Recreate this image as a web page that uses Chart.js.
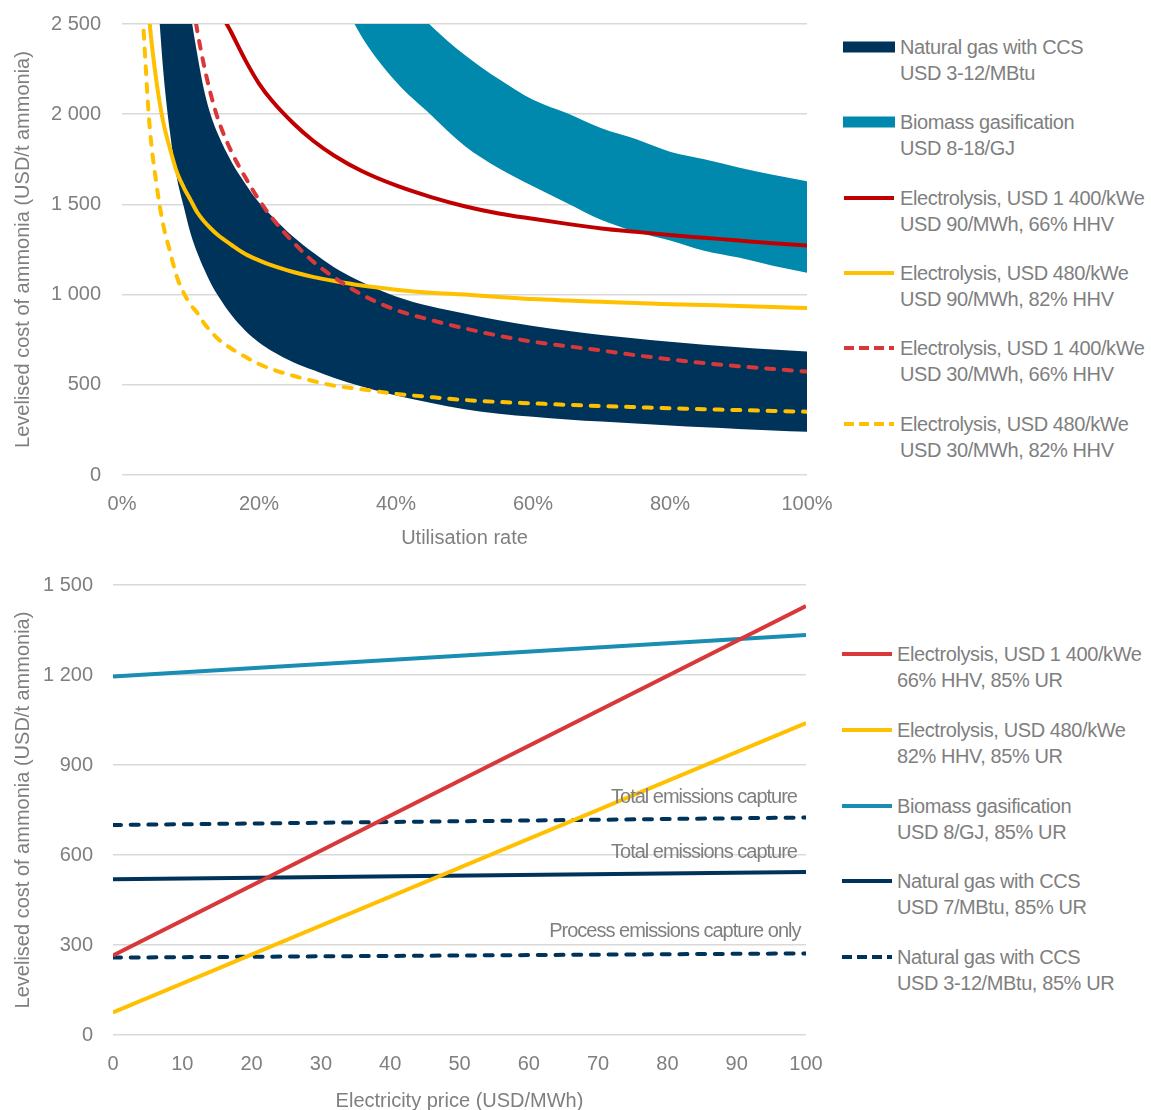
<!DOCTYPE html>
<html>
<head>
<meta charset="utf-8">
<script src="https://cdn.jsdelivr.net/npm/chart.js@4/dist/chart.umd.min.js"></script>
<style>
html,body{margin:0;padding:0;background:#fff;}
body{width:1151px;height:1110px;position:relative;overflow:hidden;font-family:"Liberation Sans",Arial,sans-serif;color:#7f7f7f;}
canvas{position:absolute;left:0;}
#c1{top:0;}
#c2{top:560px;}
.legend{position:absolute;font-size:20px;line-height:26px;color:#7f7f7f;letter-spacing:-0.4px;}
.item{position:absolute;left:0;white-space:nowrap;height:52px;}
.item svg{position:absolute;left:0;top:0;}
.item .t{position:absolute;top:0;}
</style>
</head>
<body>
<canvas id="c1" width="840" height="560"></canvas>
<canvas id="c2" width="840" height="560"></canvas>
<div id="leg1" class="legend" style="left:843px;top:34px;"></div>
<div id="leg2" class="legend" style="left:841px;top:641px;"></div>
<script>
// ---------------- DATA (top chart) ----------------
const utilisation = [3,4,5,6,7,8,9,10,11,12,13,14,16,18,20,22,25,28,31,35,40,45,50,55,60,65,70,75,80,85,90,95,100];
const gasCcsLow  = [null,null,2780,2250,1900,1650,1490,1340,1230,1140,1060,995,885,800,735,685,625,580,538,490,440,400,364,340,323,308,296,285,275,264,255,247,240];
const gasCcsHigh = [null,null,4700,4000,3500,3150,2820,2560,2330,2130,1990,1890,1735,1615,1510,1430,1320,1230,1150,1070,990,935,895,858,826,800,776,757,739,722,708,695,684];
const biomassLow  = [null,null,null,null,null,null,null,null,null,null,null,null,null,null,null,null,null,null,2720,2430,2180,2000,1825,1700,1600,1506,1413,1348,1300,1243,1205,1160,1121];
const biomassHigh = [null,null,null,null,null,null,null,null,null,null,null,null,null,null,null,null,null,null,3200,2950,2700,2495,2330,2195,2080,2005,1922,1862,1792,1750,1705,1665,1628];
const elec1400at90 = [null,null,null,null,null,null,null,null,null,null,2720,2600,2450,2300,2170,2070,1950,1850,1770,1685,1605,1542,1490,1450,1420,1392,1367,1348,1330,1315,1300,1285,1272];
const elec480at90  = [3050,2520,2190,1960,1810,1680,1595,1525,1455,1405,1365,1330,1275,1225,1190,1160,1125,1097,1075,1050,1027,1010,1000,987,975,967,960,953,947,942,937,931,926];
const elec1400at30 = [null,null,null,null,null,null,2990,2700,2460,2265,2105,1975,1790,1650,1525,1420,1290,1180,1095,1000,915,860,813,772,739,714,690,664,641,620,603,588,573];
const elec480at30  = [2560,1950,1620,1390,1240,1100,1010,945,898,840,795,755,700,655,615,585,550,520,495,475,450,432,416,405,397,389,382,376,370,365,360,355,351];
const topYTicks = [0,500,1000,1500,2000,2500];
const topXTicks = [0,20,40,60,80,100];
const topLabels = [
  ['Natural gas with CCS','USD 3-12/MBtu'],
  ['Biomass gasification','USD 8-18/GJ'],
  ['Electrolysis, USD 1 400/kWe','USD 90/MWh, 66% HHV'],
  ['Electrolysis, USD 480/kWe','USD 90/MWh, 82% HHV'],
  ['Electrolysis, USD 1 400/kWe','USD 30/MWh, 66% HHV'],
  ['Electrolysis, USD 480/kWe','USD 30/MWh, 82% HHV']
];

// ---------------- DATA (bottom chart) ----------------
const electricityPrice = [0,100];
const elec1400Line = [265,1430];
const elec480Line  = [75,1040];
const biomassLine  = [1195,1333];
const gasCcs7Line  = [519,543];
const gasCcs12Line = [700,725];
const gasCcs3Line  = [258,272];
const bottomYTicks = [0,300,600,900,1200,1500];
const bottomXTicks = [0,10,20,30,40,50,60,70,80,90,100];
const bottomLabels = [
  ['Electrolysis, USD 1 400/kWe','66% HHV, 85% UR'],
  ['Electrolysis, USD 480/kWe','82% HHV, 85% UR'],
  ['Biomass gasification','USD 8/GJ, 85% UR'],
  ['Natural gas with CCS','USD 7/MBtu, 85% UR'],
  ['Natural gas with CCS','USD 3-12/MBtu, 85% UR']
];
const noteTexts = ['Total emissions capture','Total emissions capture','Process emissions capture only'];
const noteAnchors = [{x:98.7,y:793},{x:98.7,y:610},{x:99.2,y:345}];

// ---------------- STYLE ----------------
const NAVY='#00335a', TEAL='#0089ad', DARKRED='#c00000', RED='#d9383a', YELLOW='#ffc000', TEAL2='#1a8db3';
const GREY='#7f7f7f', GRID='#d9d9d9';
const FONT="'Liberation Sans', Arial, sans-serif";
Chart.defaults.font.family = FONT;
Chart.defaults.font.size = 20;
Chart.defaults.color = GREY;

function xy(xs, ys){ return xs.map((x,i)=>({x:x,y:ys[i]})); }
function fmtNum(v){ return String(v).replace(/\B(?=(\d{3})+(?!\d))/g,' '); }

function lineDs(label, xs, ys, color, dashed, order){
  return {label:label, data:xy(xs,ys), borderColor:color, backgroundColor:color, borderWidth:4,
    borderDash: dashed?[8,9.7]:[], borderCapStyle: dashed?'round':'butt', pointRadius:0, fill:false,
    cubicInterpolationMode:'monotone', order:order};
}
function bandDs(label, xs, ys, color, fill){
  return {label:label, data:xy(xs,ys), borderColor:'rgba(0,0,0,0)', backgroundColor:color, borderWidth:0,
    pointRadius:0, fill:fill, cubicInterpolationMode:'monotone', order:20};
}
function zeroPad(s){ s.paddingTop=0; s.paddingBottom=0; s.paddingLeft=0; s.paddingRight=0; }

function axes(opts){
  return {
    x:{type:'linear', min:opts.xmin, max:opts.xmax,
       afterBuildTicks:(s)=>{ s.ticks = opts.xticks.map(v=>({value:v})); },
       afterFit:(s)=>{ s.height = opts.xh; zeroPad(s); },
       grid:{display:false, drawTicks:false}, border:{display:false},
       ticks:{padding:opts.xpad, callback:opts.xfmt, color:GREY, font:{size:20}, maxRotation:0, autoSkip:false},
       title:{display:true, text:opts.xtitle, color:GREY, font:{size:20}, padding:{top:0,bottom:opts.xtpad}}},
    y:{type:'linear', min:opts.ymin, max:opts.ymax,
       afterBuildTicks:(s)=>{ s.ticks = opts.yticks.map(v=>({value:v})); },
       afterFit:(s)=>{ s.width = opts.yw; zeroPad(s); },
       grid:{color:GRID, lineWidth:1.5, drawTicks:false}, border:{display:false},
       ticks:{padding:opts.ypad, callback:(v)=>fmtNum(v), color:GREY, font:{size:20}},
       title:{display:true, text:'Levelised cost of ammonia (USD/t ammonia)', color:GREY, font:{size:20}, padding:{top:11,bottom:0}}}
  };
}

// ---------------- TOP CHART ----------------
new Chart(document.getElementById('c1'), {
  type:'line',
  data:{datasets:[
    bandDs(topLabels[0].join(' ')+' (low)', utilisation, gasCcsLow, NAVY, false),
    bandDs(topLabels[0].join(' '), utilisation, gasCcsHigh, NAVY, '-1'),
    bandDs(topLabels[1].join(' ')+' (low)', utilisation, biomassLow, TEAL, false),
    bandDs(topLabels[1].join(' '), utilisation, biomassHigh, TEAL, '-1'),
    lineDs(topLabels[2].join(' '), utilisation, elec1400at90, DARKRED, false, 3),
    lineDs(topLabels[3].join(' '), utilisation, elec480at90, YELLOW, false, 2),
    lineDs(topLabels[4].join(' '), utilisation, elec1400at30, RED, true, 1),
    lineDs(topLabels[5].join(' '), utilisation, elec480at30, YELLOW, true, 0)
  ]},
  options:{
    responsive:false, animation:false, devicePixelRatio:1,
    layout:{padding:{top:24,right:33,left:0,bottom:0}},
    plugins:{legend:{display:false}, tooltip:{enabled:false}},
    scales:axes({xmin:0,xmax:100,xticks:topXTicks,xh:85,xpad:17,xfmt:(v)=>v+'%',xtitle:'Utilisation rate',xtpad:10,
                 ymin:0,ymax:2500,yticks:topYTicks,yw:122,ypad:21})
  }
});

// ---------------- BOTTOM CHART ----------------
const notesPlugin = {
  id:'notes',
  afterDatasetsDraw(chart){
    const ctx = chart.ctx, xs = chart.scales.x, ys = chart.scales.y;
    ctx.save();
    ctx.font = '20px ' + FONT;
    ctx.fillStyle = GREY;
    ctx.textAlign = 'right';
    ctx.textBaseline = 'middle';
    try { ctx.letterSpacing = '-1px'; } catch(e) {}
    noteTexts.forEach((t,i)=>{
      ctx.fillText(t, xs.getPixelForValue(noteAnchors[i].x), ys.getPixelForValue(noteAnchors[i].y));
    });
    ctx.restore();
  }
};
new Chart(document.getElementById('c2'), {
  type:'line',
  data:{datasets:[
    lineDs(bottomLabels[0].join(' '), electricityPrice, elec1400Line, RED, false, 0),
    lineDs(bottomLabels[1].join(' '), electricityPrice, elec480Line, YELLOW, false, 1),
    lineDs(bottomLabels[2].join(' '), electricityPrice, biomassLine, TEAL2, false, 2),
    lineDs(bottomLabels[3].join(' '), electricityPrice, gasCcs7Line, NAVY, false, 3),
    lineDs(bottomLabels[4].join(' ')+' (12)', electricityPrice, gasCcs12Line, NAVY, true, 4),
    lineDs(bottomLabels[4].join(' ')+' (3)', electricityPrice, gasCcs3Line, NAVY, true, 5)
  ]},
  options:{
    responsive:false, animation:false, devicePixelRatio:1,
    layout:{padding:{top:25,right:34,left:0,bottom:0}},
    plugins:{legend:{display:false}, tooltip:{enabled:false}},
    scales:axes({xmin:0,xmax:100,xticks:bottomXTicks,xh:85,xpad:17,xfmt:(v)=>String(v),xtitle:'Electricity price (USD/MWh)',xtpad:7,
                 ymin:0,ymax:1500,yticks:bottomYTicks,yw:113,ypad:20})
  },
  plugins:[notesPlugin]
});

// ---------------- LEGENDS (HTML) ----------------
function swatch(kind, color){
  if (kind==='band') return '<svg width="52" height="26"><rect x="0" y="7.5" width="52" height="11" fill="'+color+'"/></svg>';
  const dash = kind==='dash' ? ' stroke-dasharray="10,5"' : '';
  return '<svg width="52" height="26"><line x1="1" y1="13" x2="51" y2="13" stroke="'+color+'" stroke-width="4"'+dash+'/></svg>';
}
function buildLegend(id, labels, kinds, colors, step, textLeft){
  const el = document.getElementById(id);
  labels.forEach((lines,i)=>{
    const d = document.createElement('div');
    d.className='item';
    d.style.top = (i*step)+'px';
    d.innerHTML = swatch(kinds[i],colors[i]) + '<div class="t" style="left:'+textLeft+'px">'+lines.join('<br>')+'</div>';
    el.appendChild(d);
  });
}
buildLegend('leg1', topLabels, ['band','band','line','line','dash','dash'], [NAVY,TEAL,DARKRED,YELLOW,RED,YELLOW], 75.3, 57);
buildLegend('leg2', bottomLabels, ['line','line','line','line','dash'], [RED,YELLOW,TEAL2,NAVY,NAVY], 75.8, 56);
</script>
</body>
</html>
